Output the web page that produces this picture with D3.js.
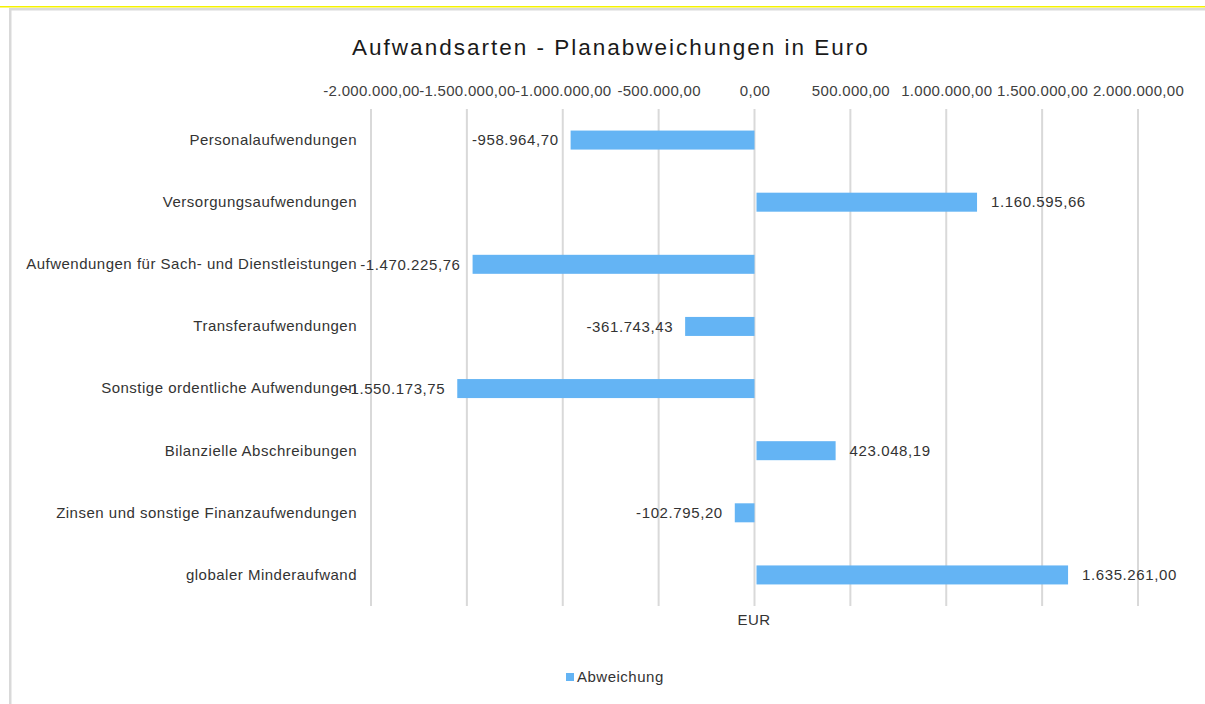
<!DOCTYPE html>
<html>
<head>
<meta charset="utf-8">
<script src="https://cdn.jsdelivr.net/npm/d3@7/dist/d3.min.js"></script>
<style>
  html, body { margin: 0; padding: 0; background: #fff; }
  svg { display: block; font-family: "Liberation Sans", Arial, sans-serif; }
</style>
</head>
<body>
<svg id="chart" width="1205" height="704"></svg>
<script>
const categories = [
  "Personalaufwendungen",
  "Versorgungsaufwendungen",
  "Aufwendungen für Sach- und Dienstleistungen",
  "Transferaufwendungen",
  "Sonstige ordentliche Aufwendungen",
  "Bilanzielle Abschreibungen",
  "Zinsen und sonstige Finanzaufwendungen",
  "globaler Minderaufwand"
];
const values = [-958964.70, 1160595.66, -1470225.76, -361743.43, -1550173.75, 423048.19, -102795.20, 1635261.00];
const tickValues = [-2000000, -1500000, -1000000, -500000, 0, 500000, 1000000, 1500000, 2000000];
const seriesName = "Abweichung";
const chartTitle = "Aufwandsarten - Planabweichungen in Euro";
const axisTitle = "EUR";

const de = d3.formatLocale({decimal: ",", thousands: ".", grouping: [3], currency: ["", " €"], minus: "-"});
const fmt = de.format(",.2f");

const svg = d3.select("#chart");
const W = 1205, H = 704;
const barColor = "#64B4F4";
const txt = "#333333";

// frame
svg.append("rect").attr("x", 0).attr("y", 6).attr("width", W).attr("height", 1.5).attr("fill", "#f5f200");
svg.append("rect").attr("x", 9).attr("y", 8).attr("width", W - 9).attr("height", 2.5).attr("fill", "#d9d9d9");
svg.append("rect").attr("x", 9).attr("y", 8).attr("width", 2.5).attr("height", H - 8).attr("fill", "#d9d9d9");

const x = d3.scaleLinear().domain([-2000000, 2000000]).range([371, 1138]);
const y = d3.scaleBand().domain(categories).range([109, 606]).paddingInner(0.694).paddingOuter(0.347);

// title
svg.append("text").attr("x", 611).attr("y", 55).attr("text-anchor", "middle")
  .attr("font-size", 22.5).attr("letter-spacing", 2).attr("fill", "#1a1a1a").text(chartTitle);

// gridlines
svg.append("g").selectAll("line").data(tickValues).join("line")
  .attr("x1", d => x(d)).attr("x2", d => x(d))
  .attr("y1", 109).attr("y2", 606)
  .attr("stroke", "#d9d9d9").attr("stroke-width", 2);

// top axis labels
const axis = d3.axisTop(x).tickValues(tickValues).tickFormat(fmt).tickSize(0).tickPadding(0);
const gAxis = svg.append("g").attr("transform", "translate(0,96)").call(axis);
gAxis.select(".domain").remove();
gAxis.selectAll("text").attr("font-size", 15).attr("letter-spacing", 0.3).attr("fill", "#404040")
  .attr("font-family", "Liberation Sans, Arial, sans-serif");

// category labels
const yAxis = d3.axisLeft(y).tickSize(0).tickPadding(0);
const gY = svg.append("g").attr("transform", "translate(357,0)").call(yAxis);
gY.select(".domain").remove();
gY.selectAll("text").attr("font-size", 15).attr("letter-spacing", 0.5).attr("fill", txt)
  .attr("font-family", "Liberation Sans, Arial, sans-serif");

// bars
const data = categories.map((c, i) => ({c, v: values[i]}));
svg.append("g").selectAll("rect").data(data).join("rect")
  .attr("x", d => d.v < 0 ? x(d.v) : x(0) + 2)
  .attr("width", d => Math.abs(x(d.v) - x(0)) - (d.v < 0 ? 0 : 2))
  .attr("y", d => y(d.c))
  .attr("height", y.bandwidth())
  .attr("fill", barColor);

// data labels
svg.append("g").selectAll("text").data(data).join("text")
  .attr("x", d => d.v < 0 ? x(d.v) - 12 : x(d.v) + 14)
  .attr("y", d => y(d.c) + y.bandwidth() / 2)
  .attr("dy", "0.35em")
  .attr("text-anchor", d => d.v < 0 ? "end" : "start")
  .attr("font-size", 15).attr("letter-spacing", 0.6).attr("fill", txt)
  .text(d => fmt(d.v));

// axis title
svg.append("text").attr("x", 754).attr("y", 625).attr("text-anchor", "middle")
  .attr("font-size", 15).attr("letter-spacing", 0.5).attr("fill", txt).text(axisTitle);

// legend
svg.append("rect").attr("x", 566).attr("y", 673).attr("width", 8).attr("height", 8).attr("fill", barColor);
svg.append("text").attr("x", 577).attr("y", 677).attr("dy", "0.35em")
  .attr("font-size", 15).attr("letter-spacing", 0.5).attr("fill", txt).text(seriesName);
</script>
</body>
</html>
